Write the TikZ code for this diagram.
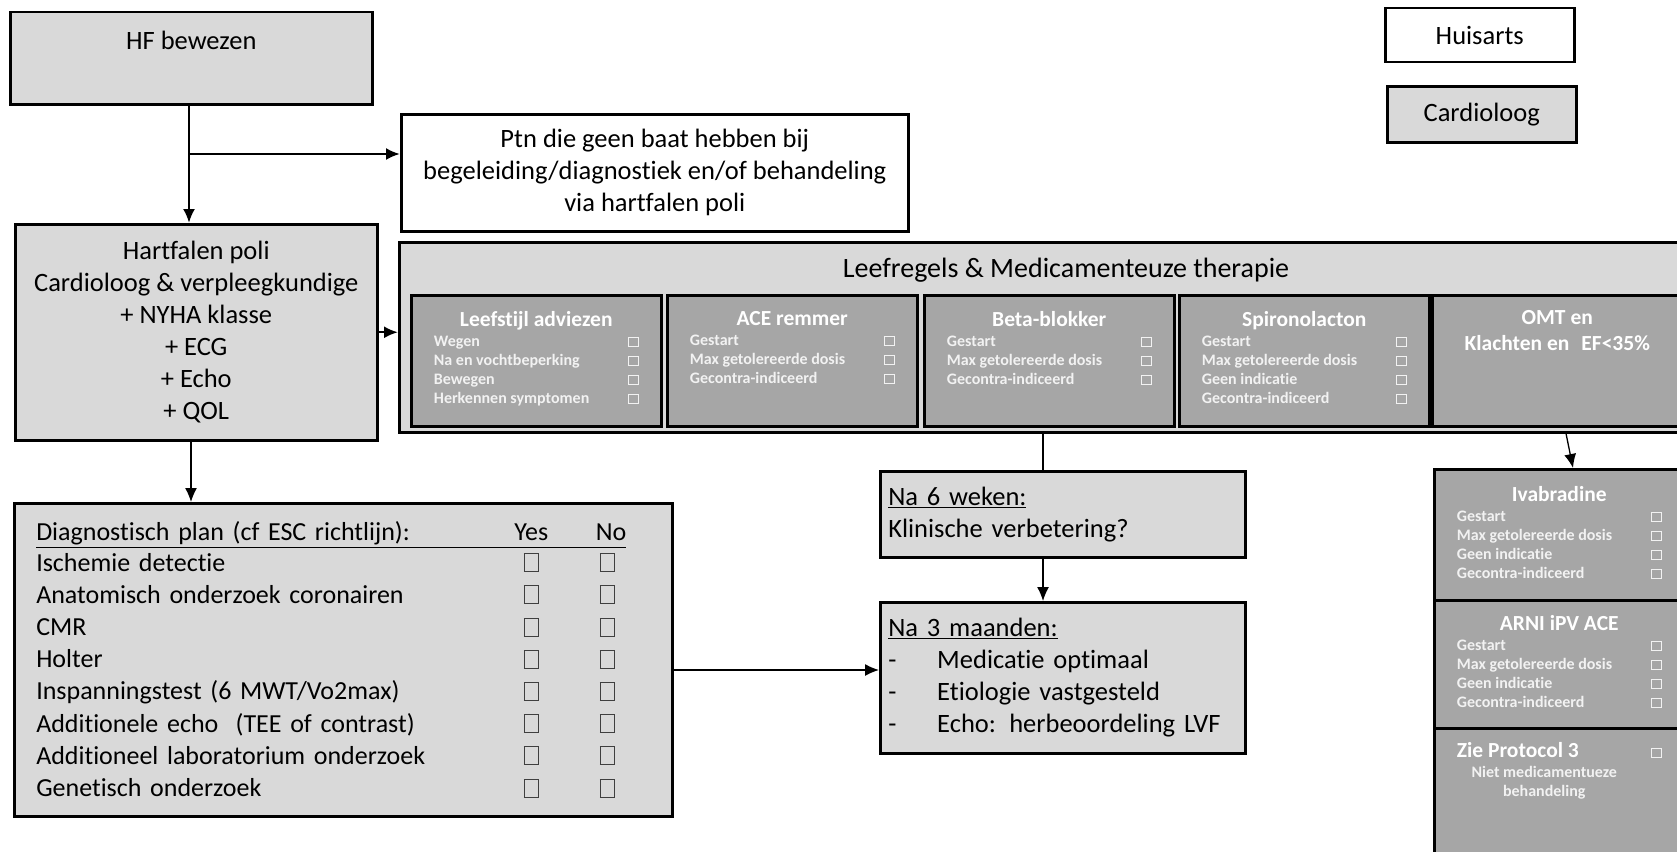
\documentclass[tikz,border=0pt]{standalone}
\usepackage{fontspec}
\setmainfont{Carlito}[Ligatures=NoCommon]
\usepackage{tikz}
\usetikzlibrary{positioning,arrows.meta}
\definecolor{lightbox}{HTML}{D9D9D9}
\definecolor{darkbox}{HTML}{A6A6A6}
\definecolor{itemtext}{HTML}{F2F2F2}
\definecolor{tickgray}{HTML}{3F3F3F}
\newcommand{\hfbig}{\fontsize{26.5}{32}\selectfont}
\newcommand{\hfdiag}{\fontsize{26}{32.2}\selectfont}
\newcommand{\hfsmall}{\fontsize{16}{19}\selectfont\bfseries}
\newcommand{\hftitle}{\fontsize{21.5}{22}\selectfont\bfseries\color{white}}
\newcommand{\hfbox}{{\setlength{\fboxsep}{0pt}\setlength{\fboxrule}{1.1pt}\fbox{\rule{0pt}{8.5pt}\hspace{8.5pt}}}}
\newcommand{\hfcheck}{{\color{tickgray}\setlength{\fboxsep}{0pt}\setlength{\fboxrule}{1pt}\fbox{\rule{0pt}{17pt}\hspace{13pt}}}}
\newcommand{\hfrow}[1]{\makebox[460pt][l]{#1}\makebox[70pt]{\hfcheck}\makebox[60pt][r]{\hfcheck\hspace{11.5pt}}}
\tikzstyle{block} = [rectangle, draw, line width=2.5pt, fill=lightbox, inner sep=0pt, anchor=north west]
\tikzstyle{whiteblock} = [block, fill=white]
\tikzstyle{medblock} = [block, fill=darkbox, minimum width=250pt]
\tikzstyle{medtext} = [inner sep=0pt, text=itemtext, font=\hfsmall]
\tikzstyle{arrow} = [line width=2.2pt, -{Latex[length=14pt,width=12pt]}]
\tikzstyle{thinarrow} = [line width=1.3pt, -{Latex[length=14pt,width=12pt]}]
\tikzstyle{thinline} = [line width=1.3pt]

\begin{document}
\begin{tikzpicture}[x=1pt, y=-1pt]
\useasboundingbox (0,0) rectangle (1677,851);
\clip (0,0) rectangle (1677,851);

% start and legend
\node[block, minimum width=362pt, minimum height=92pt] (hf) at (9,11) {};
\node[below=20pt of hf.north, inner sep=0pt, font=\hfbig] (hftext) {HF bewezen};
\node[whiteblock, minimum width=507pt, minimum height=117pt, align=center, font=\hfbig] (ptn) at (400,113)
  {Ptn die geen baat hebben bij\\begeleiding/diagnostiek en/of behandeling\\via hartfalen poli};
\node[whiteblock, minimum width=189pt, minimum height=54pt, font=\hfbig] (ha) at (1384,7) {Huisarts};
\node[block, minimum width=189pt, minimum height=56pt, font=\hfbig] (cl) at (1386,85) {Cardioloog};

\node[block, minimum width=362pt, minimum height=216pt, align=center, font=\hfbig] (hp) at (14,223)
  {Hartfalen poli\\Cardioloog \& verpleegkundige\\+ NYHA klasse\\+ ECG\\+ Echo\\+ QOL};

% therapie
\node[block, minimum width=1300pt, minimum height=190pt] (lm) at (398,241) {};
\node[inner sep=0pt, font={\fontsize{28}{32}\selectfont}] (lmtitle) at (1066,270) {Leefregels \& Medicamenteuze therapie};

\node[medblock, minimum height=131pt] (ls) at (410,294) {};
\node[medtext, below=17pt of ls.north] (lstext) {\begin{tabular}{@{}p{194pt}@{}c@{}}
  \multicolumn{2}{@{}c@{}}{\hftitle Leefstijl adviezen}\\[1pt]
  Wegen & \hfbox\\
  Na en vochtbeperking & \hfbox\\
  Bewegen & \hfbox\\
  Herkennen symptomen & \hfbox
  \end{tabular}};

\node[medblock, minimum height=131pt] (ace) at (666,294) {};
\node[medtext, below=17pt of ace.north] (acetext) {\begin{tabular}{@{}p{194pt}@{}c@{}}
  \multicolumn{2}{@{}c@{}}{\hftitle ACE remmer}\\[1pt]
  Gestart & \hfbox\\
  Max getolereerde dosis & \hfbox\\
  Gecontra-indiceerd & \hfbox
  \end{tabular}};

\node[medblock, minimum height=131pt] (bb) at (923,294) {};
\node[medtext, below=17pt of bb.north] (bbtext) {\begin{tabular}{@{}p{194pt}@{}c@{}}
  \multicolumn{2}{@{}c@{}}{\hftitle Beta-blokker}\\[1pt]
  Gestart & \hfbox\\
  Max getolereerde dosis & \hfbox\\
  Gecontra-indiceerd & \hfbox
  \end{tabular}};

\node[medblock, minimum height=131pt] (sp) at (1178,294) {};
\node[medtext, below=17pt of sp.north] (sptext) {\begin{tabular}{@{}p{194pt}@{}c@{}}
  \multicolumn{2}{@{}c@{}}{\hftitle Spironolacton}\\[1pt]
  Gestart & \hfbox\\
  Max getolereerde dosis & \hfbox\\
  Geen indicatie & \hfbox\\
  Gecontra-indiceerd & \hfbox
  \end{tabular}};

\node[medblock, minimum height=131pt] (omt) at (1431,294) {};
\node[medtext, below=16pt of omt.north, align=center, font={\fontsize{21.5}{26}\selectfont\bfseries}, text=white] (omttext)
  {OMT en\\Klachten en\hspace{12pt}EF<35\%};

% diagnostiek
\node[block, minimum width=658pt, minimum height=313pt, text width=614pt, align=left, font=\hfdiag] (diag) at (13,502)
  {\underline{\makebox[460pt][l]{Diagnostisch plan (cf ESC richtlijn):}\makebox[70pt]{Yes}\makebox[60pt][r]{No}}\\[-2pt]
   \hfrow{Ischemie detectie}\\
   \hfrow{Anatomisch onderzoek coronairen}\\
   \hfrow{CMR}\\
   \hfrow{Holter}\\
   \hfrow{Inspanningstest (6 MWT/Vo2max)}\\
   \hfrow{Additionele echo\ \ (TEE of contrast)}\\
   \hfrow{Additioneel laboratorium onderzoek}\\
   \hfrow{Genetisch onderzoek}};

% follow-up
\node[block, minimum width=365pt, minimum height=86pt, text width=349pt, align=left, font=\hfbig] (na6) at (879,470)
  {\underline{Na 6 weken:}\\Klinische verbetering?};
\node[block, minimum width=365pt, minimum height=151pt, text width=349pt, align=left, font=\hfbig] (na3) at (879,601)
  {\underline{Na 3 maanden:}\\\makebox[49pt][l]{-}Medicatie optimaal\\\makebox[49pt][l]{-}Etiologie vastgesteld\\\makebox[49pt][l]{-}Echo: herbeoordeling LVF};

% extra therapie
\node[medblock, minimum height=131pt] (iv) at (1433,468) {};
\node[medtext, below=18pt of iv.north] (ivtext) {\begin{tabular}{@{}p{194pt}@{}c@{}}
  \multicolumn{2}{@{}c@{}}{\hftitle Ivabradine}\\[1pt]
  Gestart & \hfbox\\
  Max getolereerde dosis & \hfbox\\
  Geen indicatie & \hfbox\\
  Gecontra-indiceerd & \hfbox
  \end{tabular}};

\node[medblock, minimum height=128pt] (arni) at (1433,599) {};
\node[medtext, below=16pt of arni.north] (arnitext) {\begin{tabular}{@{}p{194pt}@{}c@{}}
  \multicolumn{2}{@{}c@{}}{\hftitle ARNI iPV ACE}\\[1pt]
  Gestart & \hfbox\\
  Max getolereerde dosis & \hfbox\\
  Geen indicatie & \hfbox\\
  Gecontra-indiceerd & \hfbox
  \end{tabular}};

\node[medblock, minimum height=134pt] (zie) at (1433,727) {};
\node[medtext, below=15pt of zie.north] (zietext) {\begin{tabular}{@{}p{194pt}@{}c@{}}
  \leavevmode{\hftitle Zie Protocol 3} & \hfbox\\[1pt]
  \multicolumn{2}{@{}c@{\hspace{30pt}}}{Niet medicamentueze}\\
  \multicolumn{2}{@{}c@{\hspace{30pt}}}{behandeling}
  \end{tabular}};

% connectors
\coordinate (br) at (189,154);
\coordinate (dv) at (191,0);
\coordinate (dx) at (0,670);
\coordinate (lx) at (1043,0);
\coordinate (oa) at (1566,0);
\coordinate (ob) at (1573,0);
\draw[arrow] (hf.south -| br) -- (hp.north -| br);
\draw[arrow] (br) -- (br -| ptn.west);
\draw[arrow] (hp.east) -- (hp.east -| lm.west);
\draw[thinarrow] (hp.south -| dv) -- (diag.north -| dv);
\draw[thinarrow] (diag.east |- dx) -- (na3.west |- dx);
\draw[thinline] (lm.south -| lx) -- (na6.north -| lx);
\draw[thinarrow] (na6.south -| lx) -- (na3.north -| lx);
\draw[thinarrow] (lm.south -| oa) -- (iv.north -| ob);
\end{tikzpicture}
\end{document}
